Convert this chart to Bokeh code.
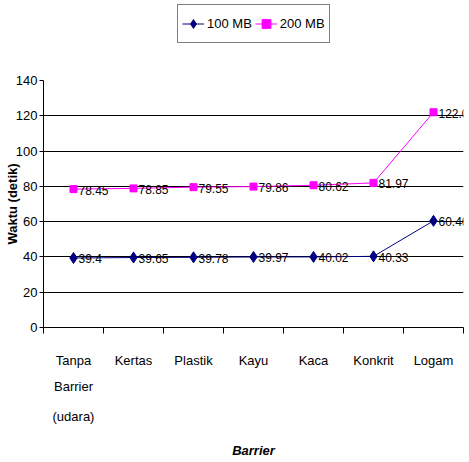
from bokeh.plotting import figure
from bokeh.models import (Range1d, FixedTicker, LinearAxis, Legend, LegendItem,
                          ColumnDataSource)
from bokeh.layouts import column
from bokeh.core.properties import value
from bokeh.embed import file_html
from bokeh.resources import INLINE

categories = ["Tanpa", "Kertas", "Plastik", "Kayu", "Kaca", "Konkrit", "Logam"]
extra_line2 = ["Barrier", "", "", "", "", "", ""]
extra_line3 = ["(udara)", "", "", "", "", "", ""]
series_100 = [39.4, 39.65, 39.78, 39.97, 40.02, 40.33, 60.46]
series_200 = [78.45, 78.85, 79.55, 79.86, 80.62, 81.97, 122.01]
y_ticks = [0, 20, 40, 60, 80, 100, 120, 140]

FONT = "Liberation Sans"
FS = "13px"
C100 = "#000080"
C200 = "#FF00FF"

n = len(categories)
centers = [i + 0.5 for i in range(n)]
bounds = list(range(n + 1))

src = ColumnDataSource(dict(x=centers, y1=series_100, y2=series_200,
                            t1=[f"{v:g}" for v in series_100],
                            t2=[f"{v:g}" for v in series_200]))

# ---------- main chart ----------
p = figure(width=469, height=392, output_backend="svg", toolbar_location=None,
           x_range=Range1d(0, n), y_range=Range1d(0, 140),
           min_border_left=43, min_border_right=6, min_border_top=10,
           min_border_bottom=135, x_axis_type=None)
p.outline_line_color = None
p.background_fill_color = "white"

xt = FixedTicker(ticks=centers, minor_ticks=bounds)
xa = LinearAxis(ticker=xt)
xa.major_label_overrides = {c: lab for c, lab in zip(centers, categories)}
xa.major_tick_out = 0
xa.major_tick_in = 0
xa.minor_tick_out = 6
xa.minor_tick_in = 0
xa.minor_tick_line_color = "black"
xa.axis_line_color = "black"
xa.major_label_standoff = 19
xa.major_label_text_font = FONT
xa.major_label_text_font_size = FS
xa.major_label_text_color = "black"
p.add_layout(xa, "below")

def extra_axis(lines, standoff, label=None):
    ax = LinearAxis(ticker=FixedTicker(ticks=centers, minor_ticks=[]))
    ax.major_label_overrides = {c: (lab if lab else " ") for c, lab in zip(centers, lines)}
    ax.axis_line_color = None
    ax.major_tick_line_color = None
    ax.minor_tick_line_color = None
    ax.major_label_standoff = standoff
    ax.major_label_text_font = FONT
    ax.major_label_text_font_size = FS
    ax.major_label_text_color = "black"
    if label:
        ax.axis_label = label
        ax.axis_label_text_font = FONT
        ax.axis_label_text_font_size = "13px"
        ax.axis_label_text_font_style = "bold italic"
        ax.axis_label_text_color = "black"
        ax.axis_label_standoff = 16
    p.add_layout(ax, "below")
    return ax

extra_axis(extra_line2, 2)
extra_axis(extra_line3, 6, "Barrier")

p.yaxis.ticker = FixedTicker(ticks=y_ticks, minor_ticks=[])
p.yaxis.major_tick_out = 4
p.yaxis.major_tick_in = 0
p.yaxis.major_tick_line_color = "black"
p.yaxis.axis_line_color = "black"
p.yaxis.major_label_standoff = 2
p.yaxis.major_label_text_font = FONT
p.yaxis.major_label_text_font_size = FS
p.yaxis.major_label_text_color = "black"
p.yaxis.axis_label = "Waktu (detik)"
p.yaxis.axis_label_text_font = FONT
p.yaxis.axis_label_text_font_size = "13px"
p.yaxis.axis_label_text_font_style = "bold"
p.yaxis.axis_label_text_color = "black"
p.yaxis.axis_label_standoff = -7

p.xgrid.ticker = xt
p.xgrid.grid_line_color = None
p.xgrid.minor_grid_line_color = "black"
p.xgrid.minor_grid_line_width = 1
p.ygrid.grid_line_color = "black"
p.ygrid.grid_line_width = 1

p.line("x", "y1", source=src, line_color=C100, line_width=1)
p.scatter("x", "y1", source=src, marker="diamond", size=11,
          fill_color=C100, line_color=C100)
p.line("x", "y2", source=src, line_color=C200, line_width=1)
p.scatter("x", "y2", source=src, marker="square", size=7,
          fill_color=C200, line_color=C200)

for col_y, col_t in (("y1", "t1"), ("y2", "t2")):
    p.text("x", col_y, text=col_t, source=src, x_offset=5, y_offset=1,
           text_baseline="middle", text_align="left",
           text_font=value(FONT), text_font_size="12px", text_color="black")

# ---------- legend strip on top ----------
lg = figure(width=469, height=70, output_backend="svg", toolbar_location=None,
            x_range=Range1d(-20, -19), y_range=Range1d(0, 1),
            min_border=0, x_axis_type=None, y_axis_type=None)
lg.outline_line_color = None
lg.xgrid.visible = False
lg.ygrid.visible = False
k1 = lg.line("x", "y1", source=src, line_color=C100, line_width=1)
s1 = lg.scatter("x", "y1", source=src, marker="diamond", size=11,
                fill_color=C100, line_color=C100)
k2 = lg.line("x", "y2", source=src, line_color=C200, line_width=1)
s2 = lg.scatter("x", "y2", source=src, marker="square", size=7,
                fill_color=C200, line_color=C200)

legend = Legend(items=[LegendItem(label="100 MB", renderers=[k1, s1]),
                       LegendItem(label="200 MB", renderers=[k2, s2])],
                orientation="horizontal", location=(134, 27))
legend.border_line_color = "black"
legend.border_line_width = 1
legend.label_text_font = FONT
legend.label_text_font_size = FS
legend.label_text_color = "black"
legend.glyph_width = 22
legend.glyph_height = 29
legend.label_standoff = 3
legend.spacing = 3
legend.padding = 4
legend.margin = 0
legend.background_fill_alpha = 1
lg.add_layout(legend, "center")

layout = column(lg, p, spacing=0)
open("out.html", "w").write(file_html(layout, INLINE))
